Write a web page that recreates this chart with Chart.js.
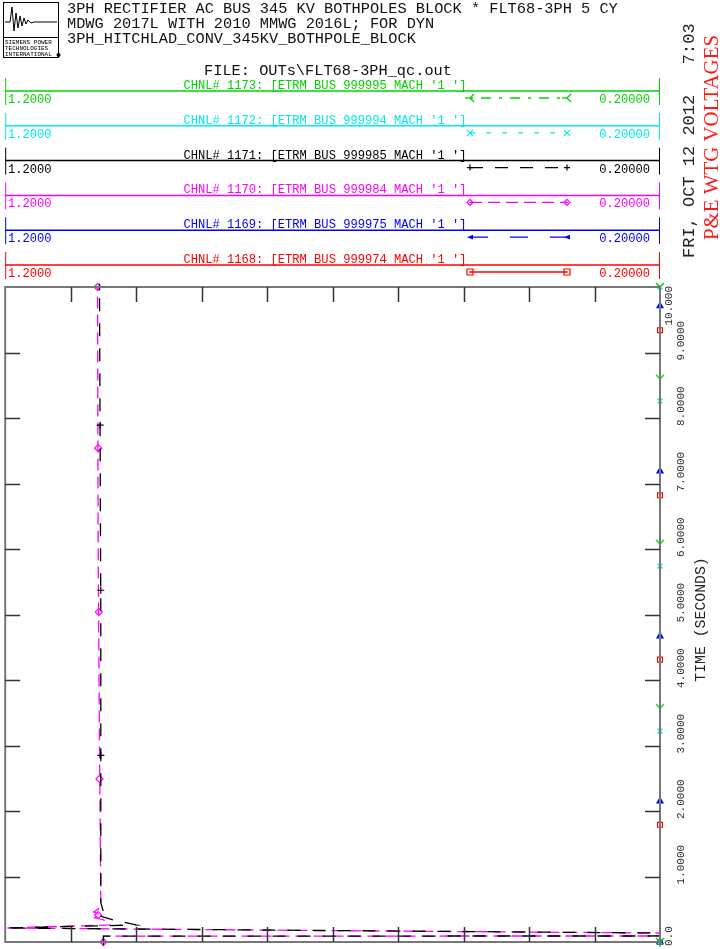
<!DOCTYPE html>
<html>
<head>
<meta charset="utf-8">
<script src="https://cdn.jsdelivr.net/npm/chart.js@4.4.1/dist/chart.umd.min.js"></script>
<style>
  html, body { margin: 0; padding: 0; background: #fff; }
  canvas { display: block; }
</style>
</head>
<body>
<canvas id="plot" width="720" height="949"></canvas>
<script>
// header text
const titleLines = [
  '3PH RECTIFIER AC BUS 345 KV BOTHPOLES BLOCK * FLT68-3PH 5 CY',
  'MDWG 2017L WITH 2010 MMWG 2016L; FOR DYN',
  '3PH_HITCHLAD_CONV_345KV_BOTHPOLE_BLOCK'
];
const fileLabel = 'FILE: OUTs\\FLT68-3PH_qc.out';
const runDate = 'FRI, OCT 12 2012   7:03';
const plotTitle = 'P&E WTG VOLTAGES';
const timeAxisTitle = 'TIME (SECONDS)';
const logoLines = ['SIEMENS POWER', 'TECHNOLOGIES', 'INTERNATIONAL'];

// channels, top to bottom in the legend
const channelNums = [1173, 1172, 1171, 1170, 1169, 1168];
const channelBuses = [999995, 999994, 999985, 999984, 999975, 999974];
const scaleLeft = 1.2, scaleRight = 0.2;
const scaleLeftLabel = '1.2000', scaleRightLabel = '0.20000';

// axes
const timeTicks = [0, 1, 2, 3, 4, 5, 6, 7, 8, 9, 10];
const timeTickLabels = ['0.0', '1.0000', '2.0000', '3.0000', '4.0000', '5.0000',
  '6.0000', '7.0000', '8.0000', '9.0000', '10.000'];
const valueTicks = [0.3, 0.4, 0.5, 0.6, 0.7, 0.8, 0.9, 1.0, 1.1];

// traces (time in s, ETRM in pu; values off scale are read at the edge they sit on)
const time1173 = [0, 10];
const volt1173 = [0.2, 0.2];
const time1172 = [0, 10];
const volt1172 = [0.2, 0.2];
const time1171 = [0, 0.09, 0.092, 0.137, 0.175, 0.214, 0.26, 0.336, 0.41, 0.46, 0.6, 5, 10];
const volt1171 = [1.05, 1.05, 0.2, 0.2, 0.7, 1.2, 1.0, 1.035, 1.06, 1.05, 1.054, 1.054, 1.056];
const time1170 = [0, 0.09, 0.092, 0.137, 0.175, 0.214, 0.26, 0.34, 0.37, 0.41, 0.46, 0.5, 0.6, 3, 6, 10];
const volt1170 = [1.05, 1.05, 0.2, 0.2, 0.72, 1.2, 1.04, 1.05, 1.063, 1.055, 1.065, 1.058, 1.054, 1.056, 1.058, 1.059];
const time1169 = [0, 10];
const volt1169 = [0.2, 0.2];
const time1168 = [0, 10];
const volt1168 = [0.2, 0.2];

// marker positions along each trace
const markT1173 = [0, 3.57, 6.08, 8.60, 10];
const markV1173 = [0.2, 0.2, 0.2, 0.2, 0.2];
const markT1172 = [0, 3.22, 5.74, 8.26, 10];
const markV1172 = [0.2, 0.2, 0.2, 0.2, 0.2];
const markT1171 = [0, 2.85, 5.37, 7.89, 10];
const markV1171 = [1.05, 1.054, 1.054, 1.055, 1.056];
const markT1170 = [0, 0.41, 2.49, 5.04, 7.54, 10];
const markV1170 = [1.05, 1.058, 1.056, 1.057, 1.058, 1.059];
const markT1169 = [0, 2.15, 4.67, 7.19, 9.71];
const markV1169 = [0.2, 0.2, 0.2, 0.2, 0.2];
const markT1168 = [0, 1.79, 4.31, 6.82, 9.34];
const markV1168 = [0.2, 0.2, 0.2, 0.2, 0.2];

const traceTimes = [time1173, time1172, time1171, time1170, time1169, time1168];
const traceVolts = [volt1173, volt1172, volt1171, volt1170, volt1169, volt1168];
const markTimes = [markT1173, markT1172, markT1171, markT1170, markT1169, markT1168];
const markVolts = [markV1173, markV1172, markV1171, markV1170, markV1169, markV1168];

// look
const colors = ['#00d400', '#00eaea', '#000000', '#ff00ff', '#0000ff', '#ff0000'];
const dashes = [[3, 8, 10, 8], [5, 11], [13, 12], [12, 6], [18, 22], []];
const marks = ['Y', 'crossRot', 'cross', 'rectRot', 'triangle', 'rect'];
const MONO = '"Liberation Mono", "DejaVu Sans Mono", monospace';

function yMark(color) {
  const c = document.createElement('canvas');
  c.width = 10; c.height = 10;
  const g = c.getContext('2d');
  g.strokeStyle = color; g.lineWidth = 1.3;
  g.beginPath();
  g.moveTo(1, 1); g.lineTo(5, 5); g.lineTo(9, 1);
  g.moveTo(5, 5); g.lineTo(5, 10);
  g.stroke();
  return c;
}
const yImg = yMark(colors[0]);

const datasets = [];
channelNums.forEach((n, i) => {
  datasets.push({
    label: 'CHNL ' + n,
    data: traceTimes[i].map((t, k) => ({ x: traceVolts[i][k], y: t })),
    showLine: true,
    borderColor: colors[i],
    borderWidth: 1.3,
    borderDash: dashes[i],
    pointRadius: 0,
    clip: 2
  });
  datasets.push({
    label: 'mark ' + n,
    data: markTimes[i].map((t, k) => ({ x: markVolts[i][k], y: t })),
    showLine: false,
    pointStyle: marks[i] === 'Y' ? yImg : marks[i],
    pointRadius: 3.5,
    pointBorderWidth: 1.2,
    pointBorderColor: colors[i],
    pointBackgroundColor: marks[i] === 'triangle' ? colors[i] : 'rgba(0,0,0,0)',
    clip: false
  });
});

function line(ctx, x1, y1, x2, y2) {
  ctx.beginPath(); ctx.moveTo(x1, y1); ctx.lineTo(x2, y2); ctx.stroke();
}

function vtext(ctx, str, x, y, font, color, align, width) {
  ctx.save();
  ctx.translate(x, y);
  ctx.rotate(-Math.PI / 2);
  ctx.font = font;
  ctx.fillStyle = color;
  ctx.textAlign = align;
  ctx.textBaseline = 'alphabetic';
  if (width) ctx.scale(width / ctx.measureText(str).width, 1);
  ctx.fillText(str, 0, 0);
  ctx.restore();
}

function drawMark(ctx, style, x, y, r, color) {
  ctx.save();
  ctx.translate(x, y);
  ctx.strokeStyle = color; ctx.fillStyle = color; ctx.lineWidth = 1.2;
  ctx.beginPath();
  if (style === 'rect') {
    ctx.rect(-r, -r, 2 * r, 2 * r); ctx.stroke();
    ctx.fillRect(-0.7, -0.7, 1.4, 1.4);
  } else if (style === 'rectRot') {
    ctx.moveTo(0, -r); ctx.lineTo(r, 0); ctx.lineTo(0, r); ctx.lineTo(-r, 0); ctx.closePath(); ctx.stroke();
    ctx.fillRect(-0.7, -0.7, 1.4, 1.4);
  } else if (style === 'cross') {
    ctx.moveTo(-r, 0); ctx.lineTo(r, 0); ctx.moveTo(0, -r); ctx.lineTo(0, r); ctx.stroke();
  } else if (style === 'crossRot') {
    ctx.moveTo(-r, -r); ctx.lineTo(r, r); ctx.moveTo(r, -r); ctx.lineTo(-r, r); ctx.stroke();
  } else if (style === 'triangle') {
    ctx.moveTo(-r, 0); ctx.lineTo(r, -r * 0.8); ctx.lineTo(r, r * 0.8); ctx.closePath(); ctx.fill();
  } else if (style === 'Y') {
    ctx.rotate(Math.PI / 2);
    ctx.drawImage(yImg, -5, -5);
  }
  ctx.restore();
}

const paper = {
  id: 'paper',
  beforeDraw(chart) {
    const ctx = chart.ctx;
    ctx.save();
    ctx.fillStyle = '#fff';
    ctx.fillRect(0, 0, chart.width, chart.height);
    ctx.restore();
  },
  afterDraw(chart) {
    const ctx = chart.ctx;
    const a = chart.chartArea;
    const xs = chart.scales.x, ys = chart.scales.y;
    ctx.save();

    // plot frame and inward ticks
    ctx.strokeStyle = '#777'; ctx.lineWidth = 2;
    ctx.strokeRect(a.left, a.top, a.right - a.left, a.bottom - a.top);
    ctx.strokeStyle = '#333'; ctx.lineWidth = 1.5;
    valueTicks.forEach(v => {
      const px = Math.round(xs.getPixelForValue(v)) + 0.5;
      line(ctx, px, a.top, px, a.top + 15);
      line(ctx, px, a.bottom, px, a.bottom - 15);
    });
    timeTicks.forEach((t, i) => {
      if (i === 0 || i === timeTicks.length - 1) return;
      const py = Math.round(ys.getPixelForValue(t)) + 0.5;
      line(ctx, a.left, py, a.left + 15, py);
      line(ctx, a.right, py, a.right - 15, py);
    });

    // time labels
    const tf = '11px ' + MONO;
    timeTicks.forEach((t, i) => {
      const py = ys.getPixelForValue(t);
      if (i === 0) vtext(ctx, timeTickLabels[i], a.right + 12, py + 4, tf, '#333', 'left');
      else if (i === timeTicks.length - 1) vtext(ctx, timeTickLabels[i], a.right + 12, py - 1, tf, '#333', 'right');
      else vtext(ctx, timeTickLabels[i], a.right + 24, py + 8, tf, '#333', 'left');
    });
    vtext(ctx, timeAxisTitle, 705, (a.top + a.bottom) / 2 + 5, '14.8px ' + MONO, '#222', 'center');

    // right side captions
    vtext(ctx, runDate, 694, 258, '17px ' + MONO, '#222', 'left');
    vtext(ctx, plotTitle, 718, 240, '22px "Liberation Serif", serif', '#ff1a1a', 'left', 205);

    // logo
    ctx.strokeStyle = '#000'; ctx.lineWidth = 1;
    ctx.strokeRect(3.5, 2.5, 55, 55);
    line(ctx, 3.5, 37.5, 58.5, 37.5);
    ctx.beginPath();
    [[5, 22], [10, 22], [12, 7], [14, 31], [16, 13], [18, 28], [20, 16], [22, 26], [24, 18],
     [26, 24], [28, 20], [31, 23], [34, 22], [57, 22]].forEach((p, k) => k ? ctx.lineTo(p[0], p[1]) : ctx.moveTo(p[0], p[1]));
    ctx.stroke();
    ctx.fillStyle = '#000';
    ctx.font = '6px ' + MONO;
    ctx.textAlign = 'left';
    logoLines.forEach((s, k) => ctx.fillText(s, 5, 44 + k * 6));
    ctx.beginPath(); ctx.arc(58.5, 55, 2, 0, Math.PI * 2); ctx.fill();

    // title block
    ctx.font = '15.3px ' + MONO;
    ctx.fillStyle = '#111';
    titleLines.forEach((s, k) => ctx.fillText(s, 67, 13 + k * 14.8));
    ctx.textAlign = 'center';
    ctx.fillText(fileLabel, 328, 75);

    // channel legend
    channelNums.forEach((n, i) => {
      const y0 = 91 + i * 34.8;
      const c = colors[i];
      ctx.strokeStyle = c; ctx.fillStyle = c;
      ctx.lineWidth = 1.5;
      ctx.setLineDash([]);
      line(ctx, a.left, y0, a.right, y0);
      ctx.lineWidth = 1;
      line(ctx, a.left + 0.5, y0 - 13, a.left + 0.5, y0 + 14);
      line(ctx, a.right - 0.5, y0 - 13, a.right - 0.5, y0 + 14);
      ctx.font = '12.1px ' + MONO;
      ctx.textAlign = 'center';
      ctx.fillText(`CHNL# ${n}: [ETRM BUS ${channelBuses[i]} MACH '1 ']`, 325, y0 - 2);
      ctx.textAlign = 'left';
      ctx.fillText(scaleLeftLabel, 8, y0 + 12);
      ctx.textAlign = 'right';
      ctx.fillText(scaleRightLabel, 650, y0 + 12);
      ctx.lineWidth = 1.3;
      ctx.setLineDash(dashes[i]);
      line(ctx, 470, y0 + 7, 567, y0 + 7);
      ctx.setLineDash([]);
      drawMark(ctx, marks[i], 470, y0 + 7, 3, c);
      drawMark(ctx, marks[i], 567, y0 + 7, 3, c);
    });
    ctx.restore();
  }
};

new Chart(document.getElementById('plot'), {
  type: 'scatter',
  data: { datasets },
  options: {
    responsive: false,
    animation: false,
    layout: { padding: { left: 5, right: 60, top: 287, bottom: 7 } },
    plugins: { legend: { display: false }, tooltip: { enabled: false }, title: { display: false } },
    scales: {
      x: { type: 'linear', min: scaleRight, max: scaleLeft, reverse: true, display: false },
      y: { type: 'linear', min: 0, max: 10, display: false }
    }
  },
  plugins: [paper]
});
</script>
</body>
</html>
